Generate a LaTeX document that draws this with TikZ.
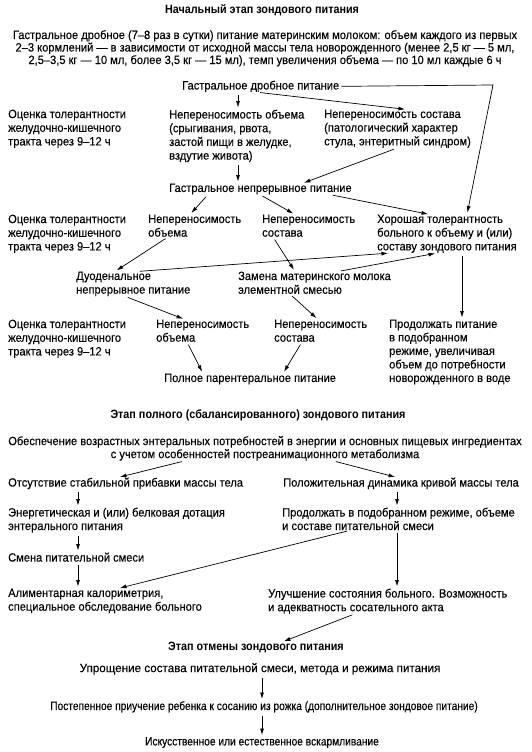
\documentclass[tikz,border=0pt]{standalone}
\usepackage{fontspec}
\setmainfont{Liberation Sans}[FakeStretch=0.925,FakeBold=0.2]
\newfontfamily\tightfont{Liberation Sans}[FakeStretch=0.85,FakeBold=0.2]
\newfontfamily\widefont{Liberation Sans}[FakeStretch=0.97,FakeBold=0.2]
\newfontfamily\ttlfont{Liberation Sans}[FakeStretch=0.9]
\usetikzlibrary{arrows.meta}

\tikzset{
  txt/.style={anchor=north west,inner sep=0pt,align=left,font=\fontsize{12}{13.7}\selectfont},
  ctxt/.style={anchor=north,inner sep=0pt,align=center,font=\fontsize{12}{13}\selectfont},
  ttl/.style={anchor=north,inner sep=0pt,font=\fontsize{12}{13}\selectfont\ttlfont\bfseries},
  arr/.style={-{Latex[length=6.5pt,width=4pt]},line width=.7pt,shorten <=3pt,shorten >=2pt}
}

\begin{document}
\begin{tikzpicture}[x=1pt,y=1pt]
\useasboundingbox (0,0) rectangle (531,-752);
%initial stage
\node[ttl] (title1) at (262,-4) {Начальный этап зондового питания};
\node[ctxt,font=\fontsize{12}{12.5}\selectfont] (intro) at (265,-30) {Гастральное дробное (7–8 раз в сутки) питание материнским молоком: объем каждого из первых\\2–3 кормлений — в зависимости от исходной массы тела новорожденного (менее 2,5 кг — 5 мл,\\2,5–3,5 кг — 10 мл, более 3,5 кг — 15 мл), темп увеличения объема — по 10 мл каждые 6 ч};
\node[txt] (gdp) at (182,-80.5) {Гастральное дробное питание};
%first row
\node[txt] (ocen1) at (8,-109.5) {Оценка толерантности\\желудочно-кишечного\\тракта через 9–12 ч};
\node[txt] (neobem1) at (169,-109.5) {Непереносимость объема\\(срыгивания, рвота,\\застой пищи в желудке,\\вздутие живота)};
\node[txt] (nesost1) at (324,-109.5) {Непереносимость состава\\(патологический характер\\стула, энтеритный синдром)};
\node[txt] (gnp) at (169,-183.5) {Гастральное непрерывное питание};
%second row
\node[txt] (ocen2) at (8,-214.5) {Оценка толерантности\\желудочно-кишечного\\тракта через 9–12 ч};
\node[txt] (neobem2) at (148,-214.5) {Непереносимость\\объема};
\node[txt] (nesost2) at (262,-214.5) {Непереносимость\\состава};
\node[txt] (horosh) at (377,-214.5) {Хорошая толерантность\\больного к объему и (или)\\составу зондового питания};
\node[txt] (duod) at (76,-271.5) {Дуоденальное\\непрерывное питание};
\node[txt] (zamena) at (238,-271.5) {Замена материнского молока\\элементной смесью};
%third row
\node[txt] (ocen3) at (8,-319.5) {Оценка толерантности\\желудочно-кишечного\\тракта через 9–12 ч};
\node[txt] (neobem3) at (156,-319.5) {Непереносимость\\объема};
\node[txt] (nesost3) at (274,-319.5) {Непереносимость\\состава};
\node[txt,font=\fontsize{12}{13.5}\selectfont] (prodolzh) at (389,-319.5) {Продолжать питание\\в подобранном\\режиме, увеличивая\\объем до потребности\\новорожденного в воде};
\node[txt] (ppp) at (164,-373.5) {Полное парентеральное питание};
%arrows of initial stage
\coordinate (kink) at (493,-85);
\draw[arr] ([xshift=56pt]gdp.south west) -- ([xshift=69pt]neobem1.north west);
\draw[arr] ([xshift=75pt]gdp.south west) -- ([xshift=83pt]nesost1.north west);
\draw[arr,shorten <=2pt] (gdp.east) -- (kink) -- ([xshift=90pt]horosh.north west);
\draw[arr] ([xshift=69pt]neobem1.south west) -- ([xshift=69pt]gnp.north west);
\draw[arr] ([xshift=73pt]nesost1.south west) -- ([xshift=133pt]gnp.north west);
\draw[arr] ([xshift=39pt]gnp.south west) -- ([xshift=42pt]neobem2.north west);
\draw[arr] ([xshift=91pt]gnp.south west) -- ([xshift=33pt]nesost2.north west);
\draw[arr] ([xshift=161pt]gnp.south west) -- ([xshift=53pt]horosh.north west);
\draw[arr] ([xshift=20pt]neobem2.south west) -- ([xshift=39pt]duod.north west);
\draw[arr] ([xshift=11pt]nesost2.south west) -- ([xshift=57pt]zamena.north west);
\draw[arr] ([xshift=61pt]duod.north west) -- ([xshift=13pt]horosh.south west);
\draw[arr] ([xshift=100pt]zamena.north west) -- ([xshift=60pt]horosh.south west);
\draw[arr] ([xshift=85pt]horosh.south west) -- ([xshift=73pt]prodolzh.north west);
\draw[arr] ([xshift=49pt]duod.south west) -- ([xshift=29pt]neobem3.north west);
\draw[arr] ([xshift=52pt]zamena.south west) -- ([xshift=44pt]nesost3.north west);
\draw[arr] ([xshift=31pt]neobem3.south west) -- ([xshift=39pt]ppp.north west);
\draw[arr] ([xshift=28pt]nesost3.south west) -- ([xshift=119pt]ppp.north west);
%full stage
\node[ttl] (title2) at (258,-409) {Этап полного (сбалансированного) зондового питания};
\node[ctxt] (obesp) at (265,-436) {Обеспечение возрастных энтеральных потребностей в энергии и основных пищевых ингредиентах\\с учетом особенностей постреанимационного метаболизма};
\node[txt] (otsut) at (8,-477.5) {Отсутствие стабильной прибавки массы тела};
\node[txt] (polozh) at (283,-477.5) {Положительная динамика кривой массы тела};
\node[txt,font=\fontsize{12}{13.5}\selectfont] (energ) at (8,-507.5) {Энергетическая и (или) белковая дотация\\энтерального питания};
\node[txt,font=\fontsize{12}{13.5}\selectfont] (prod2) at (282,-507.5) {Продолжать в подобранном режиме, объеме\\и составе питательной смеси};
\node[txt] (smena) at (8,-552.5) {Смена питательной смеси};
\node[txt] (aliment) at (8,-588.5) {Алиментарная калориметрия,\\специальное обследование больного};
\node[txt] (uluch) at (268,-588.5) {Улучшение состояния больного. Возможность\\и адекватность сосательного акта};
\draw[arr] ([xshift=-80pt]obesp.south) -- ([xshift=110pt]otsut.north west);
\draw[arr] ([xshift=68pt]obesp.south) -- ([xshift=114pt]polozh.north west);
\draw[arr] ([xshift=70pt]otsut.south west) -- ([xshift=70pt]energ.north west);
\draw[arr] ([xshift=114pt]polozh.south west) -- ([xshift=115pt]prod2.north west);
\draw[arr] ([xshift=70pt]energ.south west) -- ([xshift=70pt]smena.north west);
\draw[arr] ([xshift=70pt]smena.south west) -- ([xshift=70pt]aliment.north west);
\draw[arr] ([xshift=68pt]prod2.south west) -- ([xshift=110pt]aliment.north west);
\draw[arr] ([xshift=115pt]prod2.south west) -- ([xshift=129pt]uluch.north west);
%weaning stage
\node[ttl] (title3) at (256,-642) {Этап отмены зондового питания};
\node[ctxt,font=\fontsize{12}{13}\selectfont\widefont] (upr) at (260,-663) {Упрощение состава питательной смеси, метода и режима питания};
\node[ctxt,font=\fontsize{12}{13}\selectfont\tightfont] (postep) at (264,-701) {Постепенное приучение ребенка к сосанию из рожка (дополнительное зондовое питание)};
\node[ctxt,font=\fontsize{12}{13}\selectfont\tightfont] (iskus) at (262,-737) {Искусственное или естественное вскармливание};
\draw[arr] ([xshift=87pt]uluch.south west) -- ([xshift=26pt]title3.north);
\draw[arr] ([xshift=2pt]upr.south) -- ([xshift=-2pt]postep.north);
\draw[arr] ([xshift=-2pt]postep.south) -- (iskus.north);
\end{tikzpicture}
\end{document}
